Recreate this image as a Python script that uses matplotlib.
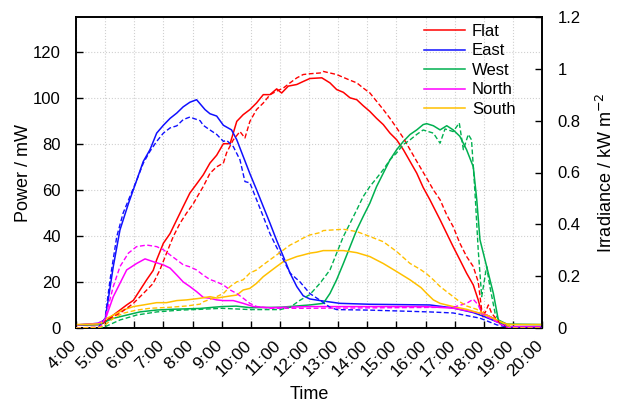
import matplotlib
matplotlib.use("Agg")
import matplotlib.pyplot as plt
from matplotlib.ticker import FuncFormatter
from matplotlib.transforms import ScaledTranslation

plt.rcParams['font.family'] = ['Liberation Sans', 'DejaVu Sans']

# ---------------- data (time in decimal hours) ----------------
hour_ticks = list(range(4, 21))
hour_labels = [f"{h}:00" for h in hour_ticks]
series_names = ["Flat", "East", "West", "North", "South"]
series_colors = ["#FF0000", "#1010FF", "#00B050", "#FF00FF", "#FFC000"]

# Power (mW), solid lines, left axis
flat_p_t = [4.0, 4.83, 5.0, 5.28, 5.51, 5.74, 5.97, 6.20, 6.43, 6.65, 6.77, 7.00, 7.23, 7.46, 7.68, 7.91, 8.14, 8.37, 8.60, 8.83, 9.06, 9.29, 9.52, 9.74, 9.97, 10.20, 10.43, 10.66, 10.89, 11.06, 11.29, 11.58, 11.80, 12.03, 12.44, 12.72, 12.95, 13.18, 13.41, 13.64, 13.86, 14.09, 14.32, 14.55, 14.78, 15.01, 15.24, 15.47, 15.70, 15.92, 16.15, 16.27, 16.50, 16.73, 16.95, 17.18, 17.41, 17.64, 17.81, 17.93, 17.97, 18.10, 18.33, 18.56, 18.90, 20.0]
flat_p = [1.2, 1.5, 2.6, 5.6, 7.8, 10.0, 12.0, 16.5, 21.0, 25.0, 29.6, 36.8, 41.0, 47.0, 52.7, 58.6, 62.5, 66.5, 71.6, 75.0, 80.0, 80.0, 89.7, 92.6, 94.8, 97.7, 101.3, 101.3, 103.8, 102.0, 105.0, 105.7, 107.0, 108.3, 108.6, 106.4, 103.5, 102.3, 99.9, 99.1, 96.5, 94.0, 91.0, 88.3, 84.6, 81.7, 77.4, 72.3, 67.2, 61.0, 55.7, 52.7, 47.0, 41.0, 35.3, 29.6, 23.8, 18.7, 12.2, 6.4, 4.9, 5.6, 4.2, 2.3, 0.6, 0.6]

east_p_t = [4.0, 4.75, 5.0, 5.28, 5.51, 5.80, 6.08, 6.31, 6.54, 6.77, 7.00, 7.23, 7.46, 7.68, 7.91, 8.14, 8.43, 8.60, 8.83, 9.06, 9.34, 9.52, 9.74, 9.97, 10.20, 10.43, 10.66, 10.89, 11.12, 11.35, 11.58, 11.80, 12.03, 12.38, 13.06, 14.09, 16.15, 16.95, 17.64, 17.97, 18.45, 18.90, 20.0]
east_p = [1.3, 2.0, 3.5, 26.7, 42.6, 54.0, 64.0, 72.3, 77.4, 84.6, 88.0, 91.0, 93.3, 96.0, 98.0, 99.1, 94.8, 93.0, 92.0, 88.0, 86.0, 81.7, 74.5, 67.0, 60.0, 52.7, 45.5, 38.0, 31.0, 23.8, 18.0, 14.0, 12.6, 11.9, 10.7, 10.3, 10.0, 8.7, 6.7, 5.2, 2.7, 0.6, 0.6]

west_p_t = [4.0, 4.83, 5.0, 5.28, 5.74, 6.20, 6.77, 7.23, 8.26, 9.0, 9.5, 10.0, 11.0, 12.03, 12.49, 12.72, 12.95, 13.18, 13.41, 13.64, 13.86, 14.09, 14.32, 14.55, 14.78, 15.01, 15.24, 15.47, 15.70, 15.92, 16.04, 16.27, 16.50, 16.73, 16.95, 17.18, 17.41, 17.64, 17.76, 17.87, 18.10, 18.33, 18.50, 18.79, 20.0]
west_p = [1.3, 1.5, 2.7, 4.2, 5.6, 7.0, 7.8, 8.1, 8.5, 9.3, 9.5, 8.8, 9.0, 10.0, 10.7, 15.0, 21.0, 28.0, 35.3, 42.6, 48.4, 54.2, 61.4, 67.2, 73.0, 77.4, 81.0, 84.0, 86.0, 88.3, 88.7, 87.8, 86.0, 87.8, 86.0, 83.2, 77.4, 70.0, 55.7, 38.3, 26.7, 15.0, 3.5, 1.7, 1.5]

north_p_t = [4.0, 4.75, 5.0, 5.28, 5.51, 5.74, 6.08, 6.37, 6.65, 7.00, 7.23, 7.46, 7.68, 7.91, 8.14, 8.37, 8.60, 8.83, 9.06, 9.40, 9.74, 10.09, 10.66, 12.0, 16.0, 16.95, 17.64, 17.87, 18.10, 18.33, 18.56, 18.90, 20.0]
north_p = [1.3, 2.0, 3.5, 13.6, 19.4, 25.2, 28.0, 30.0, 28.8, 27.4, 26.0, 23.0, 20.0, 18.0, 15.8, 13.3, 12.9, 12.2, 11.9, 11.9, 10.7, 9.3, 8.8, 9.3, 9.3, 8.6, 7.0, 6.4, 5.6, 4.2, 2.0, 0.5, 0.5]

south_p_t = [4.0, 4.83, 5.0, 5.28, 5.62, 5.97, 6.31, 6.77, 7.11, 7.46, 7.80, 8.26, 8.60, 8.83, 9.29, 9.52, 9.74, 9.97, 10.20, 10.43, 10.66, 10.89, 11.12, 11.35, 11.58, 11.80, 12.03, 12.26, 12.49, 13.18, 13.64, 14.09, 14.55, 15.01, 15.47, 15.85, 16.04, 16.27, 16.50, 16.95, 17.41, 17.87, 18.33, 18.56, 18.79, 19.0, 20.0]
south_p = [1.5, 1.8, 3.8, 5.6, 7.8, 9.3, 10.0, 11.0, 11.0, 11.9, 12.2, 12.9, 13.6, 13.0, 13.9, 14.3, 16.5, 17.2, 19.4, 22.3, 24.5, 26.7, 28.8, 29.9, 31.0, 31.7, 32.5, 32.9, 33.6, 33.6, 32.7, 31.0, 28.0, 24.5, 20.9, 17.5, 15.0, 12.2, 10.7, 9.3, 8.1, 6.4, 4.2, 2.7, 1.7, 1.5, 1.5]

# Irradiance (kW m^-2), dashed lines, right axis
flat_i_t = [4.0, 4.83, 5.0, 5.51, 5.97, 6.31, 6.65, 6.88, 7.11, 7.34, 7.57, 7.80, 8.03, 8.14, 8.37, 8.60, 8.83, 9.06, 9.17, 9.40, 9.63, 9.80, 9.97, 10.20, 10.43, 10.66, 10.89, 11.12, 11.35, 11.58, 11.80, 12.03, 12.38, 12.49, 12.95, 13.41, 13.64, 13.86, 14.09, 14.32, 14.55, 14.78, 15.01, 15.24, 15.47, 15.70, 15.81, 16.04, 16.27, 16.50, 16.73, 16.95, 17.18, 17.41, 17.64, 17.81, 17.93, 18.04, 18.16, 18.27, 18.56, 18.79, 19.0, 20.0]
flat_i = [0.0, 0.0, 0.028, 0.057, 0.095, 0.133, 0.172, 0.224, 0.289, 0.353, 0.404, 0.444, 0.480, 0.502, 0.546, 0.597, 0.622, 0.636, 0.676, 0.726, 0.758, 0.733, 0.797, 0.843, 0.868, 0.900, 0.914, 0.926, 0.946, 0.965, 0.978, 0.981, 0.984, 0.990, 0.978, 0.956, 0.946, 0.926, 0.907, 0.875, 0.843, 0.809, 0.772, 0.733, 0.688, 0.643, 0.622, 0.578, 0.533, 0.495, 0.436, 0.391, 0.327, 0.276, 0.237, 0.178, 0.069, 0.057, 0.089, 0.057, 0.018, 0.003, 0.0, 0.0]

east_i_t = [4.0, 4.75, 5.0, 5.17, 5.40, 5.62, 5.85, 6.08, 6.31, 6.54, 6.77, 7.00, 7.23, 7.46, 7.68, 7.91, 8.03, 8.26, 8.37, 8.60, 8.83, 9.06, 9.17, 9.40, 9.63, 9.80, 9.97, 10.20, 10.43, 10.66, 10.89, 11.12, 11.35, 11.69, 12.03, 12.38, 12.72, 12.95, 14.09, 16.15, 16.95, 17.87, 18.45, 18.79, 19.0, 20.0]
east_i = [0.0, 0.0, 0.038, 0.187, 0.353, 0.444, 0.507, 0.569, 0.636, 0.682, 0.720, 0.752, 0.772, 0.780, 0.804, 0.814, 0.809, 0.800, 0.782, 0.764, 0.747, 0.720, 0.724, 0.700, 0.649, 0.565, 0.560, 0.495, 0.430, 0.364, 0.311, 0.263, 0.212, 0.178, 0.133, 0.107, 0.080, 0.071, 0.069, 0.062, 0.058, 0.038, 0.012, 0.004, 0.0, 0.0]

west_i_t = [4.0, 4.83, 5.0, 5.51, 6.08, 6.77, 7.57, 8.26, 9.0, 10.0, 11.0, 11.35, 11.69, 12.03, 12.38, 12.72, 12.95, 13.18, 13.41, 13.64, 13.86, 14.09, 14.32, 14.55, 14.78, 15.01, 15.24, 15.47, 15.70, 15.92, 16.15, 16.27, 16.50, 16.67, 16.95, 17.16, 17.30, 17.47, 17.58, 17.70, 17.81, 17.93, 18.10, 18.21, 18.39, 18.56, 18.79, 19.0, 20.0]
west_i = [0.0, 0.0, 0.005, 0.031, 0.050, 0.062, 0.069, 0.072, 0.076, 0.071, 0.071, 0.080, 0.107, 0.129, 0.173, 0.224, 0.289, 0.353, 0.404, 0.456, 0.507, 0.546, 0.578, 0.611, 0.649, 0.676, 0.708, 0.726, 0.747, 0.764, 0.756, 0.752, 0.713, 0.768, 0.758, 0.791, 0.688, 0.747, 0.726, 0.521, 0.301, 0.121, 0.237, 0.160, 0.057, 0.020, 0.008, 0.0, 0.0]

north_i_t = [4.0, 4.83, 5.0, 5.28, 5.51, 5.80, 6.08, 6.43, 6.77, 7.00, 7.23, 7.46, 7.68, 7.91, 8.14, 8.37, 8.60, 8.83, 9.06, 9.29, 9.52, 9.74, 9.97, 10.20, 10.66, 12.0, 16.95, 17.41, 17.64, 17.81, 17.93, 18.10, 18.33, 18.56, 18.90, 20.0]
north_i = [0.0, 0.004, 0.037, 0.160, 0.237, 0.289, 0.314, 0.320, 0.314, 0.302, 0.282, 0.263, 0.244, 0.236, 0.224, 0.204, 0.187, 0.178, 0.166, 0.147, 0.133, 0.115, 0.095, 0.083, 0.076, 0.076, 0.080, 0.095, 0.111, 0.089, 0.057, 0.044, 0.031, 0.015, 0.0, 0.0]

south_i_t = [4.0, 4.83, 5.0, 5.28, 5.62, 6.08, 6.54, 7.23, 7.80, 8.26, 8.37, 8.71, 9.06, 9.29, 9.52, 9.74, 9.97, 10.20, 10.43, 10.66, 10.89, 11.12, 11.35, 11.58, 11.80, 12.03, 12.38, 12.49, 13.18, 13.64, 14.09, 14.55, 15.01, 15.47, 15.81, 16.04, 16.27, 16.50, 16.73, 16.95, 17.18, 17.41, 17.76, 18.10, 18.45, 18.79, 19.0, 20.0]
south_i = [0.0, 0.003, 0.012, 0.037, 0.057, 0.069, 0.076, 0.080, 0.085, 0.092, 0.101, 0.115, 0.133, 0.160, 0.178, 0.186, 0.212, 0.224, 0.244, 0.263, 0.282, 0.301, 0.320, 0.333, 0.347, 0.359, 0.368, 0.376, 0.381, 0.372, 0.353, 0.333, 0.295, 0.249, 0.227, 0.209, 0.186, 0.160, 0.140, 0.121, 0.101, 0.085, 0.072, 0.050, 0.031, 0.012, 0.0, 0.0]

power = [(flat_p_t, flat_p), (east_p_t, east_p), (west_p_t, west_p), (north_p_t, north_p), (south_p_t, south_p)]
irrad = [(flat_i_t, flat_i), (east_i_t, east_i), (west_i_t, west_i), (north_i_t, north_i), (south_i_t, south_i)]

# ---------------- figure ----------------
fig = plt.figure(figsize=(6.17, 4.05), dpi=100)
ax = fig.add_axes([76/617, 77/405, 466/617, 311/405])
ax2 = ax.twinx()

for (t, v), name, c in zip(power, series_names, series_colors):
    ax.plot(t, v, color=c, lw=1.1, label=name, zorder=3)
for (t, v), c in zip(irrad, series_colors):
    ax2.plot(t, v, color=c, lw=1.0, ls=(0, (3.5, 1.8)), zorder=3)

ax.set_xlim(4, 20)
ax.set_ylim(0, 135)
ax2.set_ylim(0, 1.2)

ax.set_xticks(hour_ticks)
ax.set_yticks(range(0, 121, 20))
ax2.set_yticks([0, 0.2, 0.4, 0.6, 0.8, 1.0, 1.2])
ax2.yaxis.set_major_formatter(FuncFormatter(lambda v, p: f"{v:g}"))

ax.grid(True, color='#d0d0d0', ls=':', lw=0.8, zorder=0)
ax.set_axisbelow(True)

ax.tick_params(axis='x', direction='in', length=5, width=1, labelsize=12.5, pad=6, top=False)
ax.tick_params(axis='y', direction='in', length=5, width=1, labelsize=12, pad=11)
ax2.tick_params(axis='y', direction='in', length=5, width=1, labelsize=12, pad=11)

ax.set_xticklabels(hour_labels, rotation=45, ha='right', rotation_mode='anchor')
shift = ScaledTranslation(-5/72, -1/72, fig.dpi_scale_trans)
for lab in ax.get_xticklabels():
    lab.set_transform(lab.get_transform() + shift)

for a in (ax, ax2):
    for s in a.spines.values():
        s.set_linewidth(1.2)
        s.set_color('black')

ax.set_xlabel("Time", fontsize=13, labelpad=5)
ax.set_ylabel("Power / mW", fontsize=13, labelpad=0.5)
ax2.set_ylabel("Irradiance / kW m$^{-2}$", fontsize=13, labelpad=11)

ax.legend(loc='upper right', bbox_to_anchor=(0.965, 1.01), frameon=False, fontsize=12,
          handlelength=2.5, handletextpad=0.4, labelspacing=0.27, borderaxespad=0.2)

fig.savefig("out.png", dpi=100)
